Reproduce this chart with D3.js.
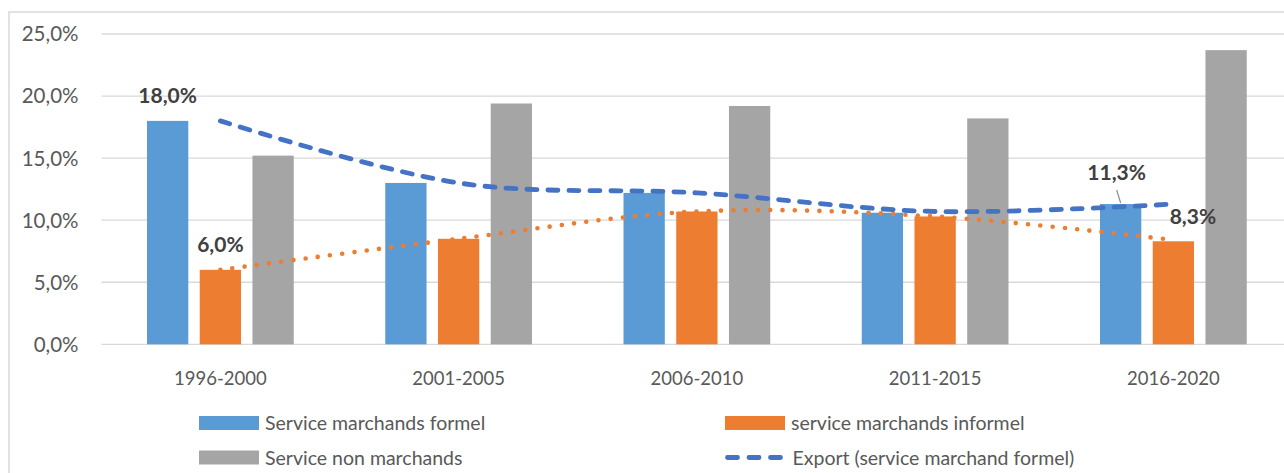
<!DOCTYPE html>
<html lang="fr">
<head>
  <meta charset="UTF-8">
  <title>Services</title>
  <style>
    body { margin: 0; background: #fff; overflow: hidden; }
    svg { display: block; font-family: Lato, "Liberation Sans", sans-serif; }
  </style>
</head>
<body>
  <div id="chart"></div>
  <script src="https://d3js.org/d3.v7.min.js"></script>
  <script>
    const periods = ["1996-2000", "2001-2005", "2006-2010", "2011-2015", "2016-2020"];
    const formel = [18.0, 13.0, 12.2, 10.6, 11.3];
    const informel = [6.0, 8.5, 10.7, 10.3, 8.3];
    const nonMarchands = [15.2, 19.4, 19.2, 18.2, 23.7];
    const exportLine = [18.0, 13.0, 12.2, 10.7, 11.3];
    const informelLine = [6.0, 8.5, 10.7, 10.3, 8.4];
    const yTicks = [0, 5, 10, 15, 20, 25];

    const seriesNames = ["Service marchands formel", "service marchands informel", "Service non marchands"];
    const colors = ["#5B9BD5", "#ED7D31", "#A5A5A5"];

    const width = 1284, height = 473;
    const svg = d3.select("#chart").append("svg")
      .attr("width", width).attr("height", height);

    // chart frame (right/bottom edges fall outside the picture)
    svg.append("rect")
      .attr("x", 9).attr("y", 12).attr("width", 1300).attr("height", 500)
      .attr("fill", "none").attr("stroke", "#D9D9D9").attr("stroke-width", 1.5);

    const x = d3.scaleBand().domain(periods).range([101.25, 1292.5]);
    const y = d3.scaleLinear().domain([0, 25]).range([344.3, 34]);

    const inner = d3.scaleBand().domain(d3.range(3))
      .range([45.75, 192.5]).paddingInner(0.217);

    // gridlines
    svg.append("g").selectAll("line").data(yTicks).join("line")
      .attr("x1", 101.5).attr("x2", width)
      .attr("y1", d => y(d)).attr("y2", d => y(d))
      .attr("stroke", "#D9D9D9").attr("stroke-width", 1.3);

    // y labels
    svg.append("g").selectAll("text").data(yTicks).join("text")
      .attr("x", 78.5).attr("y", d => y(d)).attr("dy", "0.36em")
      .attr("text-anchor", "end").attr("font-size", 20.5).attr("fill", "#595959")
      .text(d => d.toFixed(1).replace(".", ",") + "%");

    // bars
    const series = [formel, informel, nonMarchands];
    series.forEach((vals, s) => {
      svg.append("g").selectAll("rect").data(vals).join("rect")
        .attr("x", (d, i) => x(periods[i]) + inner(s))
        .attr("width", inner.bandwidth())
        .attr("y", d => y(d))
        .attr("height", d => y(0) - y(d))
        .attr("fill", colors[s]);
    });

    // x labels
    svg.append("g").selectAll("text").data(periods).join("text")
      .attr("x", d => x(d) + x.bandwidth() / 2).attr("y", 378).attr("dy", "0.36em")
      .attr("text-anchor", "middle").attr("font-size", 18.5).attr("fill", "#595959")
      .text(d => d);

    const cx = i => x(periods[i]) + x.bandwidth() / 2;
    const line = d3.line().x((d, i) => cx(i)).y(d => y(d)).curve(d3.curveCatmullRom.alpha(0.5));

    svg.append("path").datum(informelLine).attr("d", line)
      .attr("fill", "none").attr("stroke", "#ED7D31").attr("stroke-width", 4.6)
      .attr("stroke-linecap", "round").attr("stroke-dasharray", "0,12.3");

    svg.append("path").datum(exportLine).attr("d", line)
      .attr("fill", "none").attr("stroke", "#4472C4").attr("stroke-width", 4.8)
      .attr("stroke-linecap", "round").attr("stroke-dasharray", "10,11");

    // data labels
    const labels = [
      { s: 0, i: 0, dx: 0, dy: -25 },
      { s: 1, i: 0, dx: 0, dy: -25 },
      { s: 0, i: 4, dx: -4, dy: -32 },
      { s: 1, i: 4, dx: 19.5, dy: -24.6 }
    ];
    labels.forEach(l => {
      const v = series[l.s][l.i];
      const bx = x(periods[l.i]) + inner(l.s) + inner.bandwidth() / 2;
      svg.append("text")
        .attr("x", bx + l.dx).attr("y", y(v) + l.dy).attr("dy", "0.36em")
        .attr("text-anchor", "middle").attr("font-size", 21).attr("font-weight", "bold")
        .attr("fill", "#404040")
        .text(v.toFixed(1).replace(".", ",") + "%");
    });
    // leader line for 11,3%
    const lx = x(periods[4]) + inner(0) + inner.bandwidth() / 2;
    svg.append("line")
      .attr("x1", lx - 4).attr("y1", y(formel[4]) - 14)
      .attr("x2", lx).attr("y2", y(formel[4]) - 1)
      .attr("stroke", "#8C8C8C").attr("stroke-width", 1.2);

    // legend
    const legend = [
      { name: seriesNames[0], type: "bar", color: colors[0], x: 199, y: 423 },
      { name: seriesNames[1], type: "bar", color: colors[1], x: 725, y: 423 },
      { name: seriesNames[2], type: "bar", color: colors[2], x: 199, y: 457.5 },
      { name: "Export (service marchand formel)", type: "dash", color: "#4472C4", x: 725, y: 457.5 }
    ];
    const lg = svg.append("g").selectAll("g").data(legend).join("g")
      .attr("transform", d => `translate(${d.x},${d.y})`);
    lg.filter(d => d.type === "bar").append("rect")
      .attr("x", 0).attr("y", -7).attr("width", 60).attr("height", 14)
      .attr("fill", d => d.color);
    lg.filter(d => d.type === "dash").append("line")
      .attr("x1", 2.5).attr("x2", 58).attr("y1", 0).attr("y2", 0)
      .attr("stroke", d => d.color).attr("stroke-width", 4.8)
      .attr("stroke-linecap", "round").attr("stroke-dasharray", "10,11.5");
    lg.append("text")
      .attr("x", d => d.type === "bar" ? 66 : 67.5).attr("y", 0).attr("dy", "0.36em")
      .attr("font-size", 19.5).attr("fill", "#595959")
      .text(d => d.name);
  </script>
</body>
</html>
